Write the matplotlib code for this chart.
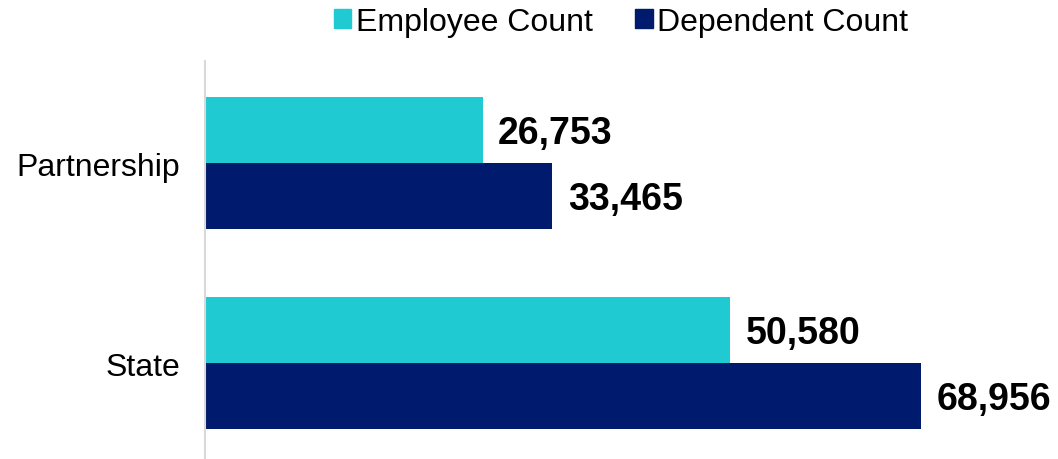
import matplotlib.pyplot as plt
import numpy as np
from matplotlib.patches import Patch

plt.rcParams['font.family'] = ['Liberation Sans', 'DejaVu Sans']

categories = ["State", "Partnership"]
employee = [50580, 26753]
dependent = [68956, 33465]
series_names = ["Employee Count", "Dependent Count"]
colors = ["#1FCAD3", "#001A6E"]

fig = plt.figure(figsize=(10.58, 4.6), dpi=100)
ax = fig.add_axes([205 / 1058, 0, 1 - 205 / 1058, 1 - 62 / 460])

y = np.arange(len(categories))
h = 0.33
b1 = ax.barh(y + h / 2, employee, height=h, color=colors[0])
b2 = ax.barh(y - h / 2, dependent, height=h, color=colors[1])

for bars, vals in [(b1, employee), (b2, dependent)]:
    for bar, v in zip(bars, vals):
        ax.text(v + 1500, bar.get_y() + bar.get_height() / 2 - 0.015, f"{v:,}",
                va="center", ha="left", fontsize=27, fontweight="bold")

ax.set_xlim(0, 82200)
ax.set_ylim(-0.48, 1.51)
ax.set_yticks(y)
ax.set_yticklabels(categories, fontsize=23)
ax.tick_params(axis="y", length=0, pad=18)
ax.set_xticks([])
for s in ["top", "right", "bottom"]:
    ax.spines[s].set_visible(False)
ax.spines["left"].set_color("#D9D9D9")
ax.spines["left"].set_linewidth(1.5)

handles = [Patch(color=c) for c in colors]
fig.legend(handles, series_names, loc="upper center", bbox_to_anchor=(0.587, 1.045),
           ncol=2, frameon=False, fontsize=23, handlelength=0.55, handleheight=0.55,
           handletextpad=0.15, columnspacing=1.32)

fig.savefig("out.png", dpi=100)
